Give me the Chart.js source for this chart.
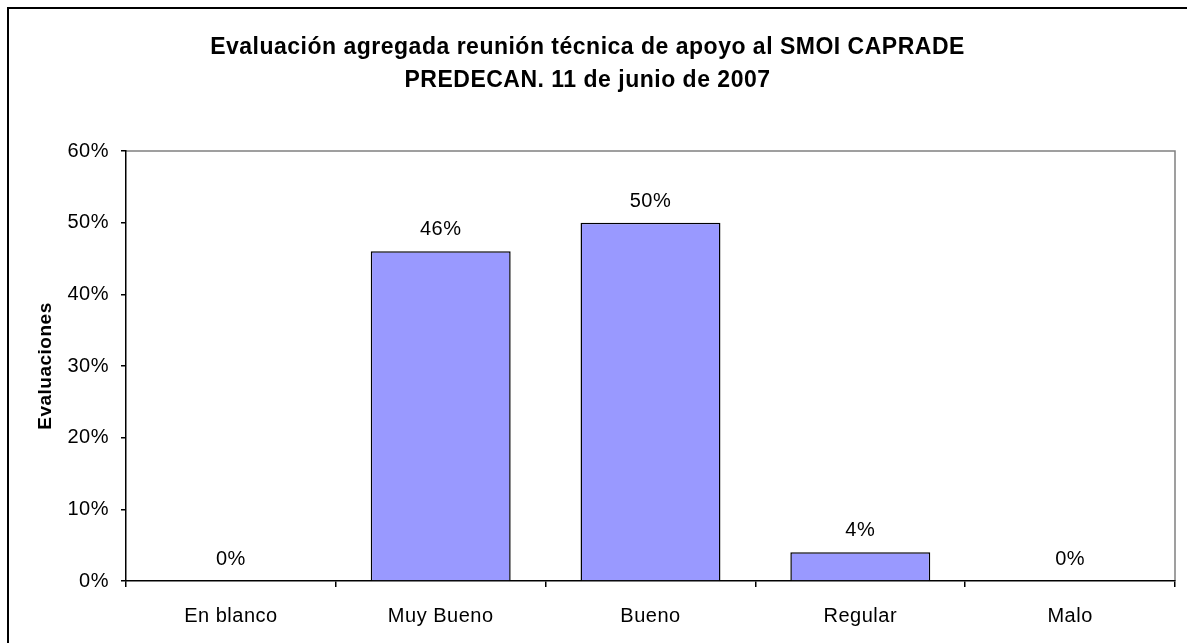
<!DOCTYPE html>
<html>
<head>
<meta charset="utf-8">
<script src="https://cdn.jsdelivr.net/npm/chart.js@4/dist/chart.umd.min.js"></script>
<style>
  html, body { margin: 0; padding: 0; background: #fff; overflow: hidden; }
  #wrap { width: 1187px; height: 643px; position: relative; }
</style>
</head>
<body>
<div id="wrap"><canvas id="evalChart" width="1187" height="643"></canvas></div>
<script>
var categories = ["En blanco", "Muy Bueno", "Bueno", "Regular", "Malo"];
var evaluaciones = [0, 0.46, 0.50, 0.04, 0];
var yTicks = [0, 0.1, 0.2, 0.3, 0.4, 0.5, 0.6];

var FONT = "'Liberation Sans', Arial, sans-serif";

function pct(v) {
  return Math.round(v * 100) + '%';
}

// outer frame + gray plot border, and the slightly wider letter spacing of the original
var framePlugin = {
  id: 'frame',
  beforeDraw: function(chart) {
    var c = chart.ctx;
    var a = chart.chartArea;
    c.save();
    c.fillStyle = '#fff';
    c.fillRect(0, 0, chart.width, chart.height);
    c.strokeStyle = '#000';
    c.lineWidth = 2;
    c.beginPath();
    c.moveTo(8, chart.height + 5);
    c.lineTo(8, 8);
    c.lineTo(chart.width + 5, 8);
    c.stroke();
    c.strokeStyle = '#808080';
    c.lineWidth = 1.5;
    c.beginPath();
    c.moveTo(a.left, a.top);
    c.lineTo(a.right, a.top);
    c.lineTo(a.right, a.bottom);
    c.stroke();
    c.restore();
    c.letterSpacing = '0.5px';
  }
};

// value labels above the bars
var labelPlugin = {
  id: 'barLabels',
  afterDatasetsDraw: function(chart) {
    var c = chart.ctx;
    var meta = chart.getDatasetMeta(0);
    c.save();
    c.fillStyle = '#000';
    c.font = '20px ' + FONT;
    c.textAlign = 'center';
    c.textBaseline = 'alphabetic';
    meta.data.forEach(function(bar, i) {
      c.fillText(pct(evaluaciones[i]), bar.x, bar.y - 16);
    });
    c.restore();
  }
};

var ctx = document.getElementById('evalChart').getContext('2d');
var chart = new Chart(ctx, {
  type: 'bar',
  data: {
    labels: categories,
    datasets: [{
      label: 'Evaluaciones',
      data: evaluaciones,
      backgroundColor: '#9999FF',
      borderColor: '#000',
      borderWidth: 1.5,
      categoryPercentage: 1,
      barPercentage: 0.667
    }]
  },
  options: {
    responsive: false,
    animation: false,
    layout: { padding: { left: 0, right: 12, top: 0, bottom: 0 } },
    plugins: {
      legend: { display: false },
      tooltip: { enabled: false },
      title: {
        display: true,
        text: ['Evaluación agregada reunión técnica de apoyo al SMOI CAPRADE', 'PREDECAN. 11 de junio de 2007'],
        color: '#000',
        font: { family: FONT, size: 23, weight: 'bold', lineHeight: 1.435 },
        padding: { top: 31, bottom: 54 }
      }
    },
    scales: {
      x: {
        offset: true,
        afterFit: function(scale) { scale.height = 62; },
        grid: {
          offset: true,
          drawOnChartArea: false,
          drawTicks: true,
          tickLength: 6,
          color: '#000',
          lineWidth: 1.5
        },
        border: { color: '#000', width: 1.5 },
        ticks: {
          color: '#000',
          font: { family: FONT, size: 20 },
          padding: 17,
          maxRotation: 0
        }
      },
      y: {
        min: 0,
        max: 0.6,
        afterFit: function(scale) { scale.width = 126; },
        afterBuildTicks: function(scale) {
          scale.ticks = yTicks.map(function(v) { return { value: v }; });
        },
        grid: {
          drawOnChartArea: false,
          drawTicks: true,
          tickLength: 5,
          color: '#000',
          lineWidth: 1.5
        },
        border: { color: '#000', width: 1.5 },
        ticks: {
          color: '#000',
          font: { family: FONT, size: 20 },
          padding: 12,
          callback: function(v) { return pct(v); }
        },
        title: {
          display: true,
          text: 'Evaluaciones',
          color: '#000',
          font: { family: FONT, size: 19, weight: 'bold' },
          padding: { top: 34, bottom: 0 }
        }
      }
    }
  },
  plugins: [framePlugin, labelPlugin]
});
</script>
</body>
</html>
